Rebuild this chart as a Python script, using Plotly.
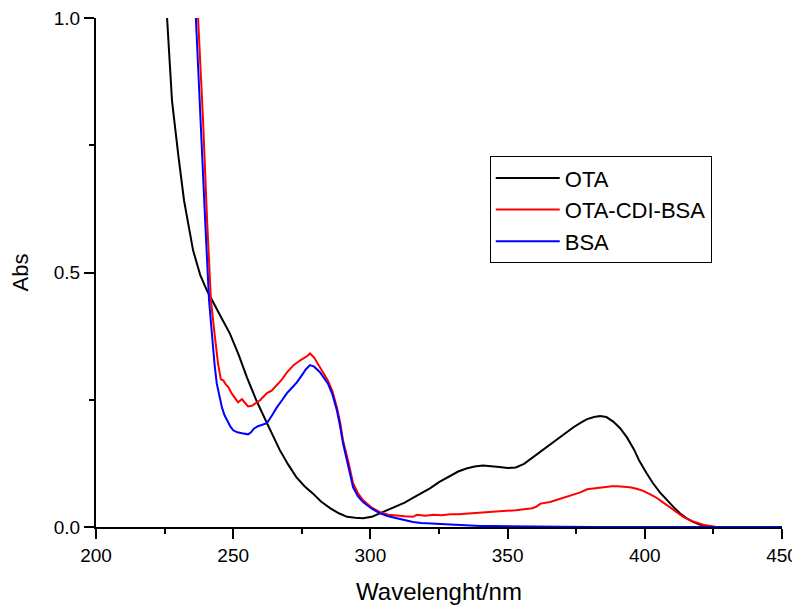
import plotly.graph_objects as go

# OTA (black)
ota_x = [225.9, 227.7, 230.0, 232.1, 235.4, 238.0, 240.4, 242.3, 245.5, 248.8, 252.0, 255.0, 258.5, 262.3,
         267.0, 270.0, 273.0, 276.0, 279.0, 282.0, 285.3, 288.5, 291.5, 294.5, 297.3, 300.5, 303.5,
         306.5, 309.7, 312.5, 315.5, 318.5, 321.7, 325.0, 329.0, 332.0, 335.0, 338.0, 341.0, 344.0,
         347.0, 350.0, 353.0, 356.0, 359.0, 362.0, 365.5, 368.0, 371.0, 374.0, 377.0, 379.0, 381.5,
         383.7, 386.0, 388.5, 391.0, 393.5, 396.0, 398.0, 400.5, 403.0, 405.5, 408.0, 410.5, 412.8,
         415.0, 417.6, 420.0, 422.7, 425.0, 430.0, 440.0, 450.0]
ota_y = [1.000, 0.837, 0.730, 0.641, 0.543, 0.495, 0.465, 0.445, 0.413, 0.380, 0.338, 0.294, 0.248, 0.204,
         0.151, 0.123, 0.098, 0.080, 0.066, 0.050, 0.037, 0.027, 0.020, 0.018, 0.017, 0.020, 0.027,
         0.033, 0.040, 0.048, 0.057, 0.066, 0.076, 0.088, 0.100, 0.109, 0.115, 0.119, 0.121, 0.120,
         0.118, 0.116, 0.117, 0.124, 0.136, 0.148, 0.161, 0.171, 0.184, 0.196, 0.206, 0.212, 0.216,
         0.218, 0.216, 0.207, 0.194, 0.176, 0.153, 0.130, 0.107, 0.086, 0.068, 0.053, 0.039, 0.027,
         0.018, 0.010, 0.005, 0.002, 0.000, 0.000, 0.000, 0.000]

# OTA-CDI-BSA (red)
cdi_x = [237.2, 239.0, 240.5, 241.9, 243.2, 244.5, 245.5, 246.4, 247.3, 248.2, 249.5, 250.7, 251.8,
         253.2, 254.3, 255.4, 256.8, 258.0, 259.8, 261.0, 262.3, 264.0, 265.9, 267.8, 269.6, 272.0,
         274.3, 276.0, 277.0, 278.0, 279.5, 281.6, 283.0, 284.5, 286.2, 287.8, 289.0, 290.0, 292.0,
         293.7, 295.5, 297.3, 300.5, 303.5, 306.5, 309.7, 312.5, 315.5, 317.0, 320.0, 323.0, 326.0,
         329.0, 332.0, 335.0, 338.0, 341.0, 344.0, 347.0, 350.0, 353.0, 356.0, 359.0, 360.5, 362.0,
         365.5, 368.0, 371.0, 374.0, 376.5, 379.0, 381.5, 383.7, 386.0, 388.0, 390.0, 392.0, 394.6,
         397.0, 399.4, 402.0, 404.4, 406.5, 409.0, 411.5, 414.0, 416.5, 419.0, 421.5, 423.8, 426.0,
         430.0, 440.0, 450.0]
cdi_y = [1.000, 0.800, 0.600, 0.445, 0.380, 0.320, 0.290, 0.288, 0.280, 0.275, 0.262, 0.252, 0.245,
         0.251, 0.244, 0.237, 0.238, 0.242, 0.249, 0.256, 0.263, 0.268, 0.278, 0.290, 0.304, 0.318,
         0.327, 0.332, 0.336, 0.341, 0.333, 0.314, 0.302, 0.288, 0.266, 0.235, 0.205, 0.171, 0.127,
         0.086, 0.066, 0.053, 0.038, 0.029, 0.024, 0.022, 0.021, 0.020, 0.024, 0.022, 0.024, 0.023,
         0.025, 0.025, 0.026, 0.027, 0.029, 0.030, 0.031, 0.032, 0.033, 0.035, 0.037, 0.040, 0.046,
         0.049, 0.053, 0.058, 0.063, 0.068, 0.074, 0.076, 0.078, 0.079, 0.080, 0.080, 0.079, 0.078,
         0.075, 0.071, 0.064, 0.057, 0.049, 0.039, 0.029, 0.020, 0.013, 0.008, 0.004, 0.002, 0.000,
         0.000, 0.000, 0.000]

# BSA (blue)
bsa_x = [236.4, 238.0, 239.8, 241.2, 242.3, 243.2, 244.0, 245.0, 245.9, 246.8, 247.7, 249.0, 250.0,
         251.5, 253.2, 254.3, 255.4, 256.5, 257.5, 259.0, 260.5, 262.3, 264.0, 265.9, 267.8, 269.6,
         271.5, 273.2, 275.0, 276.5, 278.0, 279.5, 281.6, 283.0, 284.5, 286.2, 287.8, 289.0, 290.0,
         292.0, 293.7, 295.5, 297.3, 300.5, 303.5, 306.5, 309.7, 312.5, 315.5, 318.5, 321.7, 325.0,
         330.0, 335.0, 340.0, 345.0, 353.0, 360.0, 380.0, 400.0, 425.0, 450.0]
bsa_y = [1.000, 0.800, 0.600, 0.445, 0.370, 0.320, 0.282, 0.255, 0.235, 0.220, 0.210, 0.197, 0.190,
         0.186, 0.184, 0.183, 0.182, 0.186, 0.193, 0.198, 0.201, 0.204, 0.218, 0.235, 0.249, 0.263,
         0.274, 0.284, 0.298, 0.310, 0.318, 0.315, 0.304, 0.294, 0.282, 0.260, 0.229, 0.197, 0.165,
         0.118, 0.078, 0.060, 0.049, 0.036, 0.027, 0.021, 0.017, 0.013, 0.010, 0.008, 0.007, 0.006,
         0.004, 0.003, 0.002, 0.002, 0.001, 0.001, 0.000, 0.000, 0.000, 0.000]

x_ticks = [200, 250, 300, 350, 400, 450]
y_ticks = [0.0, 0.5, 1.0]
y_tick_labels = ["0.0", "0.5", "1.0"]

FONT = "Arial, Liberation Sans, sans-serif"

fig = go.Figure()
fig.add_trace(go.Scatter(x=ota_x, y=ota_y, mode="lines", name="OTA",
                         line=dict(color="black", width=2)))
fig.add_trace(go.Scatter(x=cdi_x, y=cdi_y, mode="lines", name="OTA-CDI-BSA",
                         line=dict(color="#ff0000", width=2)))
fig.add_trace(go.Scatter(x=bsa_x, y=bsa_y, mode="lines", name="BSA",
                         line=dict(color="#0000ff", width=2)))

# page body has an 8px margin, so the figure is sized 792x597 to fill the window
fig.update_layout(
    width=792, height=597,
    margin=dict(l=88, r=18, t=10, b=78),
    plot_bgcolor="white", paper_bgcolor="white",
    font=dict(family=FONT, color="black", size=19),
    showlegend=True,
    legend=dict(x=0.574, y=0.6235, xanchor="left", yanchor="middle",
                bordercolor="black", borderwidth=1, bgcolor="white",
                font=dict(size=22, family=FONT), tracegroupgap=0,
                itemwidth=64),
)
fig.update_xaxes(
    range=[200, 450], tickvals=x_ticks, showgrid=False, zeroline=False, automargin=False,
    showline=True, linecolor="black", linewidth=2, ticklabeloverflow="allow",
    ticks="outside", ticklen=10, tickwidth=2, tickcolor="black",
    minor=dict(ticks="outside", ticklen=5, tickwidth=2, tickcolor="black", dtick=25, showgrid=False),
    title=dict(text="Wavelenght/nm", font=dict(size=24, family=FONT), standoff=18),
    tickfont=dict(size=19, family=FONT),
)
fig.update_yaxes(
    range=[0, 1.0], tickvals=y_ticks, ticktext=y_tick_labels, showgrid=False, zeroline=False,
    automargin=False, ticklabeloverflow="allow",
    showline=True, linecolor="black", linewidth=2,
    ticks="outside", ticklen=10, tickwidth=2, tickcolor="black",
    minor=dict(ticks="outside", ticklen=5, tickwidth=2, tickcolor="black", dtick=0.25, showgrid=False),
    title=dict(text="Abs", font=dict(size=22, family=FONT), standoff=21),
    tickfont=dict(size=19, family=FONT),
)

fig.write_html("out.html")
